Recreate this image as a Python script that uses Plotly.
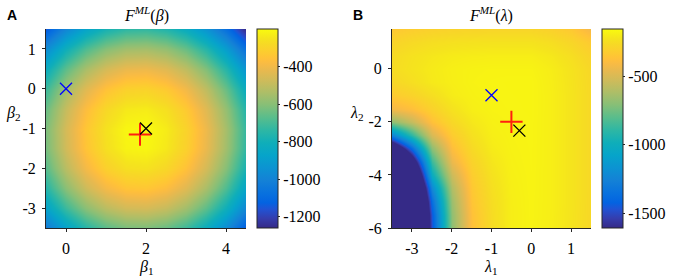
import plotly.graph_objects as go

# ---------------- data ----------------
beta1 = [-0.5, 0.0, 0.5, 1.0, 1.5, 2.0, 2.5, 3.0, 3.5, 4.0, 4.5]
beta2 = [-3.5, -3.0, -2.5, -2.0, -1.5, -1.0, -0.5, 0.0, 0.5, 1.0, 1.5]
# F^ML(beta): rows follow beta2, columns follow beta1
F_beta = [
    [-1034, -875, -755, -672, -626, -619, -649, -717, -823, -966, -1147],
    [-875, -716, -596, -513, -467, -460, -490, -558, -664, -807, -988],
    [-755, -596, -476, -393, -347, -340, -370, -438, -544, -687, -868],
    [-672, -513, -393, -310, -264, -257, -287, -355, -461, -604, -785],
    [-626, -467, -347, -264, -218, -211, -241, -309, -415, -558, -739],
    [-619, -460, -340, -257, -211, -204, -234, -302, -408, -551, -732],
    [-649, -490, -370, -287, -241, -234, -264, -332, -438, -581, -762],
    [-717, -558, -438, -355, -309, -302, -332, -400, -506, -649, -830],
    [-823, -664, -544, -461, -415, -408, -438, -506, -612, -755, -936],
    [-966, -807, -687, -604, -558, -551, -581, -649, -755, -898, -1079],
    [-1147, -988, -868, -785, -739, -732, -762, -830, -936, -1079, -1260],
]

lam1 = [-3.5, -3.0, -2.5, -2.0, -1.5, -1.0, -0.5, 0.0, 0.5, 1.0, 1.5]
lam2 = [-6.0, -5.5, -5.0, -4.5, -4.0, -3.5, -3.0, -2.5, -2.0, -1.5, -1.0,
        -0.5, 0.0, 0.5, 1.0, 1.5]
# F^ML(lambda): rows follow lam2, columns follow lam1
F_lam = [
    [-4000, -2640, -1470, -689, -368, -250, -190, -175, -190, -222, -268],
    [-3800, -2617, -1450, -681, -364, -249, -190, -174, -189, -221, -267],
    [-3700, -2539, -1364, -652, -349, -245, -189, -174, -188, -220, -266],
    [-3600, -2397, -1223, -605, -336, -237, -187, -173, -188, -220, -265],
    [-3470, -2165, -1012, -533, -316, -227, -184, -173, -188, -220, -265],
    [-2640, -1821, -864, -446, -291, -214, -181, -172, -188, -220, -265],
    [-1945, -1364, -685, -378, -259, -197, -178, -172, -188, -220, -265],
    [-1249, -886, -497, -322, -233, -187, -176, -171, -188, -220, -265],
    [-697, -552, -368, -268, -210, -181, -174, -171, -188, -220, -265],
    [-423, -375, -296, -229, -188, -175, -172, -170, -188, -220, -265],
    [-325, -289, -242, -196, -180, -173, -171, -170, -188, -220, -265],
    [-271, -240, -204, -188, -176, -172, -170, -170, -190, -222, -267],
    [-250, -223, -201, -186, -178, -175, -175, -175, -193, -225, -270],
    [-254, -229, -211, -198, -193, -190, -190, -190, -208, -240, -290],
    [-285, -260, -243, -233, -228, -225, -225, -225, -243, -275, -330],
    [-340, -315, -298, -288, -283, -280, -280, -280, -298, -335, -420],
]

# markers: initial (blue x), estimate (red +), true (black x)
beta_init = (0.0, 0.0)
beta_est = (1.85, -1.15)
beta_true = (2.0, -1.0)
lam_init = (-1.0, -1.0)
lam_est = (-0.5, -2.0)
lam_true = (-0.3, -2.33)

cb_beta_ticks = [-400, -600, -800, -1000, -1200]
cb_lam_ticks = [-500, -1000, -1500]
beta1_ticks = [0, 2, 4]
beta2_ticks = [-3, -2, -1, 0, 1]
lam1_ticks = [-3, -2, -1, 0, 1]
lam2_ticks = [-6, -4, -2, 0]

# ---------------- style ----------------
W, H = 674, 280
parula = [
    (1, (0.2081, 0.1663, 0.5292)), (4, (0.2081, 0.2386, 0.6771)),
    (7, (0.1253, 0.3242, 0.8303)), (9, (0.0117, 0.3875, 0.8820)),
    (12, (0.0329, 0.4430, 0.8720)), (16, (0.0779, 0.5040, 0.8384)),
    (20, (0.0488, 0.5772, 0.8228)), (24, (0.0231, 0.6418, 0.7913)),
    (28, (0.0590, 0.6838, 0.7254)), (32, (0.1801, 0.7177, 0.6424)),
    (36, (0.3482, 0.7424, 0.5473)), (40, (0.5300, 0.7491, 0.4661)),
    (44, (0.6834, 0.7435, 0.4044)), (48, (0.8185, 0.7327, 0.3498)),
    (51, (0.9139, 0.7258, 0.3063)), (53, (0.9739, 0.7314, 0.2666)),
    (54, (0.9938, 0.7455, 0.2403)), (55, (0.9990, 0.7653, 0.2164)),
    (57, (0.9880, 0.8066, 0.1794)), (59, (0.9697, 0.8481, 0.1475)),
    (61, (0.9589, 0.8949, 0.1132)), (64, (0.9763, 0.9831, 0.0538)),
]
cscale = [[(i - 1) / 63, "rgb(%d,%d,%d)" % tuple(round(c * 255) for c in rgb)]
          for i, rgb in parula]

serif = "Liberation Serif"
sans = "Liberation Sans"
axcol = "#262626"

def px(x):
    return x / W

def py(y):
    return 1 - y / H

ydom = [py(228), py(29)]

fig = go.Figure()

def tick_text(vals):
    return [str(v) for v in vals]

def tfont():
    return dict(family=serif, size=16, color="black")

def cbar(xpix, ticks):
    return dict(
        x=px(xpix), xanchor="left", y=ydom[0], yanchor="bottom",
        len=ydom[1] - ydom[0], lenmode="fraction", thickness=21,
        thicknessmode="pixels", xpad=0, ypad=0,
        outlinewidth=1, outlinecolor=axcol,
        tickvals=ticks, ticktext=tick_text(ticks),
        ticks="outside", ticklen=2, tickcolor=axcol, tickfont=tfont(),
    )

fig.add_trace(go.Heatmap(
    x=beta1, y=beta2, z=F_beta, zsmooth="best", colorscale=cscale,
    zmin=-1260, zmax=-200, xaxis="x", yaxis="y",
    colorbar=cbar(257, cb_beta_ticks), hoverinfo="skip",
))
fig.add_trace(go.Heatmap(
    x=lam1, y=lam2, z=F_lam, zsmooth="best", colorscale=cscale,
    zmin=-1610, zmax=-150, xaxis="x2", yaxis="y2",
    colorbar=cbar(602, cb_lam_ticks), hoverinfo="skip",
))

def add_marks(init, est, true, xa, ya):
    fig.add_trace(go.Scatter(x=[init[0]], y=[init[1]], mode="markers",
                             xaxis=xa, yaxis=ya, showlegend=False,
                             hoverinfo="skip",
                             marker=dict(symbol="x-thin", size=12,
                                         line=dict(color="#0000ff", width=1.3))))
    fig.add_trace(go.Scatter(x=[est[0]], y=[est[1]], mode="markers",
                             xaxis=xa, yaxis=ya, showlegend=False,
                             hoverinfo="skip",
                             marker=dict(symbol="cross-thin", size=16,
                                         line=dict(color="#ff2010", width=2))))
    fig.add_trace(go.Scatter(x=[true[0]], y=[true[1]], mode="markers",
                             xaxis=xa, yaxis=ya, showlegend=False,
                             hoverinfo="skip",
                             marker=dict(symbol="x-thin", size=12,
                                         line=dict(color="black", width=1.3))))

add_marks(beta_init, beta_est, beta_true, "x", "y")
add_marks(lam_init, lam_est, lam_true, "x2", "y2")

def axis(**kw):
    d = dict(showgrid=False, zeroline=False, showline=True, linecolor=axcol,
             linewidth=1, ticks="outside", ticklen=3, tickcolor=axcol,
             tickfont=tfont(), mirror=False, ticklabelstandoff=3,
             automargin=False)
    d.update(kw)
    return d

fig.update_layout(
    width=W, height=H,
    margin=dict(l=0, r=0, t=0, b=0, autoexpand=False),
    paper_bgcolor="white", plot_bgcolor="white", showlegend=False,
    font=dict(family=serif, size=16, color="black"),
    xaxis=axis(domain=[px(46), px(246)], range=[-0.5, 4.5], anchor="y",
               tickvals=beta1_ticks, ticktext=tick_text(beta1_ticks)),
    yaxis=axis(domain=ydom, range=[-3.5, 1.5], anchor="x",
               tickvals=beta2_ticks, ticktext=tick_text(beta2_ticks)),
    xaxis2=axis(domain=[px(392), px(591)], range=[-3.5, 1.5], anchor="y2",
                tickvals=lam1_ticks, ticktext=tick_text(lam1_ticks)),
    yaxis2=axis(domain=ydom, range=[-6, 1.5], anchor="x2",
                tickvals=lam2_ticks, ticktext=tick_text(lam2_ticks)),
)

def ann(text, x, y, size=16, family=serif, bold=False):
    fig.add_annotation(text=("<b>%s</b>" % text) if bold else text,
                       x=px(x), y=py(y), xref="paper", yref="paper",
                       showarrow=False, xanchor="center", yanchor="middle",
                       font=dict(family=family, size=size, color="black"))

ann("<i>F</i><sup><i>ML</i></sup>(<i>β</i>)", 146, 14)
ann("<i>F</i><sup><i>ML</i></sup>(<i>λ</i>)", 491, 14)
ann("A", 12, 14.5, size=14, family=sans, bold=True)
ann("B", 358, 14.5, size=14, family=sans, bold=True)
ann("<i>β</i><sub>1</sub>", 146, 267)
ann("<i>λ</i><sub>1</sub>", 491, 267)
ann("<i>β</i><sub>2</sub>", 13, 113)
ann("<i>λ</i><sub>2</sub>", 357, 113)

fig.write_html(
    "out.html",
    config={"displayModeBar": False},
    post_script="document.body.style.margin='0';"
                "document.body.style.overflow='hidden';",
)
